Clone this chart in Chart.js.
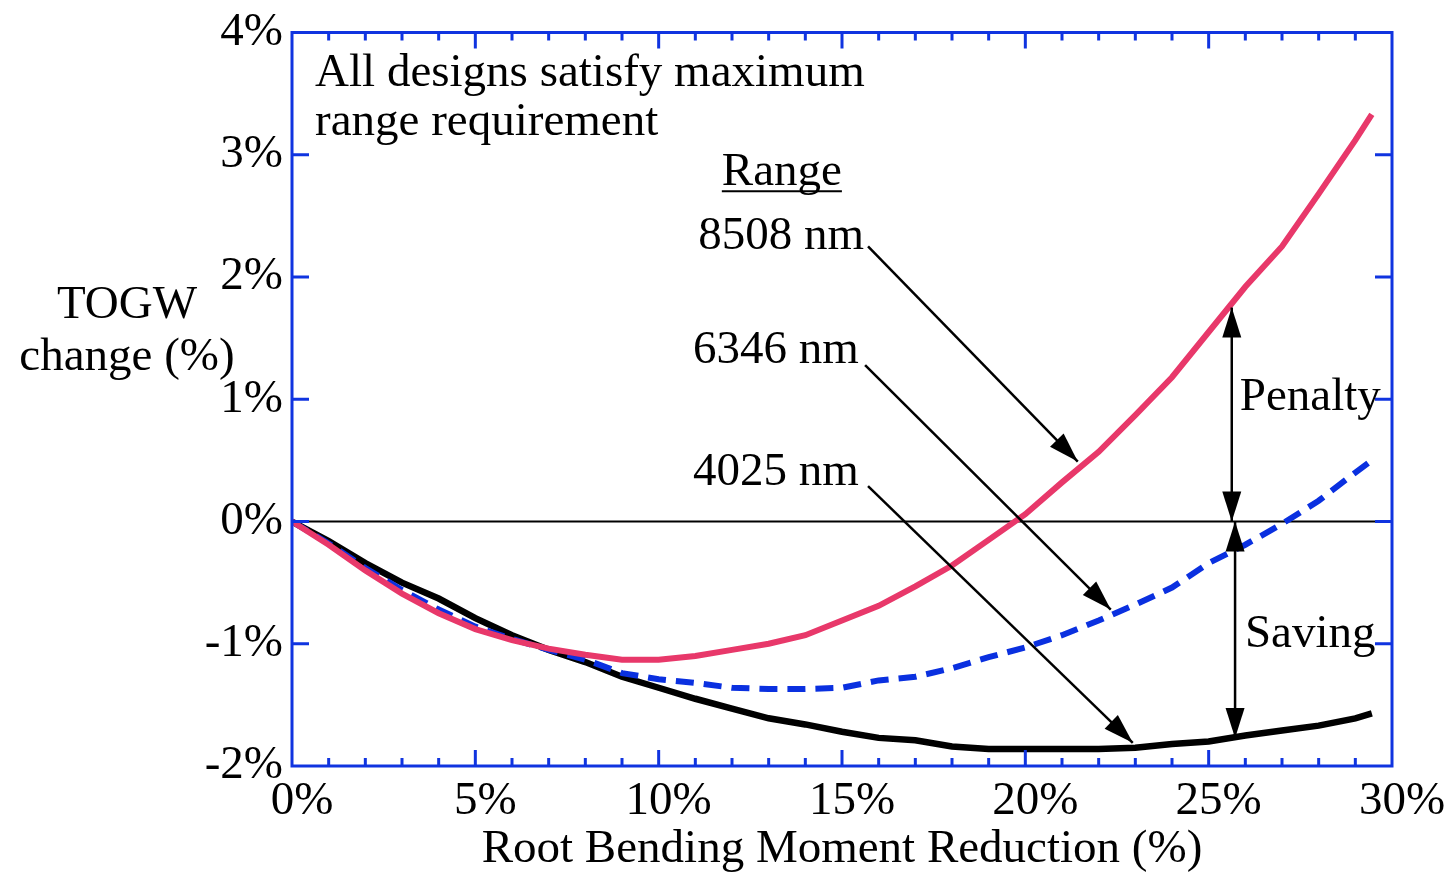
<!DOCTYPE html>
<html lang="en">
  <head>
    <meta charset="UTF-8" />
    <title>TOGW change vs root bending moment reduction</title>
    <style>
      * {
        margin: 0;
        padding: 0;
        box-sizing: border-box;
      }

      body {
        background: #fff;
      }

      .wrapper {
        width: 1448px;
        height: 873px;
        position: relative;
      }
    </style>
  </head>

  <body>
    <div class="wrapper">
      <canvas id="chart"></canvas>
    </div>

    <script src="https://cdn.jsdelivr.net/npm/chart.js@4/dist/chart.umd.min.js"></script>
    <script>
      // Root bending moment reduction (%)
      const rbmr = [0, 1, 2, 3, 4, 5, 6, 7, 8, 9, 10, 11, 12, 13, 14, 15, 16, 17, 18, 19, 20, 21, 22, 23, 24, 25, 26, 27, 28, 29, 29.45];

      // TOGW change (%) for each design range
      const range8508 = [0, -0.19, -0.4, -0.59, -0.75, -0.88, -0.97, -1.04, -1.09, -1.13, -1.13, -1.1, -1.05, -1.0, -0.93, -0.81, -0.69, -0.53, -0.36, -0.15, 0.06, 0.32, 0.57, 0.87, 1.18, 1.55, 1.92, 2.25, 2.68, 3.12, 3.33];
      const range6346 = [0, -0.18, -0.38, -0.56, -0.72, -0.86, -0.96, -1.05, -1.13, -1.24, -1.29, -1.32, -1.36, -1.37, -1.37, -1.36, -1.3, -1.27, -1.2, -1.11, -1.03, -0.93, -0.81, -0.68, -0.54, -0.34, -0.19, -0.02, 0.17, 0.4, 0.5];
      const range4025 = [0, -0.16, -0.34, -0.5, -0.63, -0.79, -0.93, -1.05, -1.15, -1.27, -1.36, -1.45, -1.53, -1.61, -1.66, -1.72, -1.77, -1.79, -1.84, -1.86, -1.86, -1.86, -1.86, -1.85, -1.82, -1.8, -1.75, -1.71, -1.67, -1.61, -1.57];

      const rangeLabels = ["8508 nm", "6346 nm", "4025 nm"];

      const red = "#e8386a";
      const blue = "#0a30e0";
      const axisBlue = "#1034e0";
      const serif = '"Liberation Serif", "DejaVu Serif", serif';
      const fontSize = 47;

      const toPoints = (ys) => rbmr.map((x, i) => ({ x: x, y: ys[i] }));

      // annotation arrows, in data units [x1, y1, x2, y2]
      const pointerArrows = [
        [15.71, 2.25, 21.43, 0.49],
        [15.63, 1.28, 22.33, -0.72],
        [15.71, 0.29, 22.93, -1.81],
      ];
      const penaltyArrow = [25.63, 1.75, 0.0];
      const savingArrow = [25.72, 0.0, -1.77];

      const arrowHead = (ctx, x1, y1, x2, y2) => {
        const a = Math.atan2(y2 - y1, x2 - x1);
        const len = 30, half = 9.5;
        ctx.beginPath();
        ctx.moveTo(x2, y2);
        ctx.lineTo(x2 - len * Math.cos(a) + half * Math.sin(a), y2 - len * Math.sin(a) - half * Math.cos(a));
        ctx.lineTo(x2 - len * Math.cos(a) - half * Math.sin(a), y2 - len * Math.sin(a) + half * Math.cos(a));
        ctx.closePath();
        ctx.fill();
      };

      const arrow = (ctx, x1, y1, x2, y2, both) => {
        ctx.beginPath();
        ctx.moveTo(x1, y1);
        ctx.lineTo(x2, y2);
        ctx.stroke();
        arrowHead(ctx, x1, y1, x2, y2);
        if (both) arrowHead(ctx, x2, y2, x1, y1);
      };

      // frame, inward ticks, zero line, annotations
      const framePlugin = {
        id: "frame",
        beforeDatasetsDraw(chart) {
          const { ctx, chartArea: a, scales } = chart;
          ctx.save();
          ctx.strokeStyle = "#000";
          ctx.lineWidth = 2;
          const y0 = scales.y.getPixelForValue(0);
          ctx.beginPath();
          ctx.moveTo(a.left, y0);
          ctx.lineTo(a.right, y0);
          ctx.stroke();
          ctx.restore();
        },
        afterDatasetsDraw(chart) {
          const { ctx, chartArea: a, scales } = chart;
          ctx.save();
          ctx.strokeStyle = axisBlue;
          ctx.lineWidth = 3;
          ctx.strokeRect(a.left, a.top, a.right - a.left, a.bottom - a.top);
          ctx.beginPath();
          for (let v = 1; v < 30; v++) {
            const px = scales.x.getPixelForValue(v);
            const len = v % 5 === 0 ? 16 : 8;
            ctx.moveTo(px, a.bottom);
            ctx.lineTo(px, a.bottom - len);
            ctx.moveTo(px, a.top);
            ctx.lineTo(px, a.top + len);
          }
          for (let v = -1; v < 4; v++) {
            const py = scales.y.getPixelForValue(v);
            ctx.moveTo(a.left, py);
            ctx.lineTo(a.left + 17, py);
            ctx.moveTo(a.right, py);
            ctx.lineTo(a.right - 17, py);
          }
          ctx.stroke();
          ctx.restore();
        },
        afterDraw(chart) {
          const { ctx, scales } = chart;
          const X = (v) => scales.x.getPixelForValue(v);
          const Y = (v) => scales.y.getPixelForValue(v);
          ctx.save();
          ctx.fillStyle = "#000";
          ctx.strokeStyle = "#000";
          ctx.font = fontSize + "px " + serif;
          ctx.textBaseline = "alphabetic";

          ctx.textAlign = "left";
          ctx.fillText("All designs satisfy maximum", X(0.63), Y(3.56));
          ctx.fillText("range requirement", X(0.63), Y(3.16));

          ctx.textAlign = "center";
          ctx.fillText("Range", X(13.36), Y(2.75));
          const w = ctx.measureText("Range").width;
          ctx.lineWidth = 2;
          ctx.beginPath();
          ctx.moveTo(X(13.36) - w / 2, Y(2.75) + 6);
          ctx.lineTo(X(13.36) + w / 2, Y(2.75) + 6);
          ctx.stroke();

          ctx.fillText(rangeLabels[0], X(13.34), Y(2.23));
          ctx.fillText(rangeLabels[1], X(13.2), Y(1.3));
          ctx.fillText(rangeLabels[2], X(13.2), Y(0.3));

          ctx.textAlign = "left";
          ctx.fillText("Penalty", X(25.85), Y(0.915));
          ctx.fillText("Saving", X(25.99), Y(-1.03));

          // y axis title, horizontal
          ctx.textAlign = "center";
          ctx.fillText("TOGW", 127, 318);
          ctx.fillText("change (%)", 127, 370);

          ctx.lineWidth = 2.5;
          pointerArrows.forEach((p) => arrow(ctx, X(p[0]), Y(p[1]), X(p[2]), Y(p[3]), false));
          arrow(ctx, X(penaltyArrow[0]), Y(penaltyArrow[1]), X(penaltyArrow[0]), Y(penaltyArrow[2]), true);
          arrow(ctx, X(savingArrow[0]), Y(savingArrow[1]), X(savingArrow[0]), Y(savingArrow[2]), true);
          ctx.restore();
        },
      };

      const canvas = document.getElementById("chart");
      canvas.width = 1448;
      canvas.height = 873;

      const chart = new Chart(canvas, {
        type: "line",
        plugins: [framePlugin],
        data: {
          datasets: [
            {
              label: rangeLabels[0],
              data: toPoints(range8508),
              borderColor: red,
              borderWidth: 6,
            },
            {
              label: rangeLabels[1],
              data: toPoints(range6346),
              borderColor: blue,
              borderWidth: 6,
              borderDash: [18, 10],
            },
            {
              label: rangeLabels[2],
              data: toPoints(range4025),
              borderColor: "#000",
              borderWidth: 6.5,
            },
          ],
        },
        options: {
          responsive: false,
          animation: false,
          elements: { point: { radius: 0 }, line: { tension: 0 } },
          layout: { autoPadding: false, padding: { top: 28, right: 56, left: 0, bottom: 0 } },
          plugins: {
            legend: { display: false },
            tooltip: { enabled: false },
          },
          scales: {
            x: {
              type: "linear",
              min: 0,
              max: 30,
              grid: { display: false, drawTicks: false },
              border: { display: false },
              ticks: {
                stepSize: 5,
                padding: 12,
                labelOffset: 10,
                color: "#000",
                font: { family: serif, size: fontSize, lineHeight: 1 },
                callback: (v) => v + "%",
              },
              title: {
                display: true,
                text: "Root Bending Moment Reduction (%)",
                color: "#000",
                font: { family: serif, size: fontSize, lineHeight: 1 },
                padding: { top: 0, bottom: 0 },
              },
              afterFit: (s) => {
                s.height = 873 - 766;
              },
            },
            y: {
              min: -2,
              max: 4,
              grid: { display: false, drawTicks: false },
              border: { display: false },
              ticks: {
                stepSize: 1,
                padding: 9,
                color: "#000",
                font: { family: serif, size: fontSize, lineHeight: 1 },
                callback: (v) => v + "%",
              },
              afterFit: (s) => {
                s.width = 292;
              },
            },
          },
        },
      });
    </script>
  </body>
</html>
